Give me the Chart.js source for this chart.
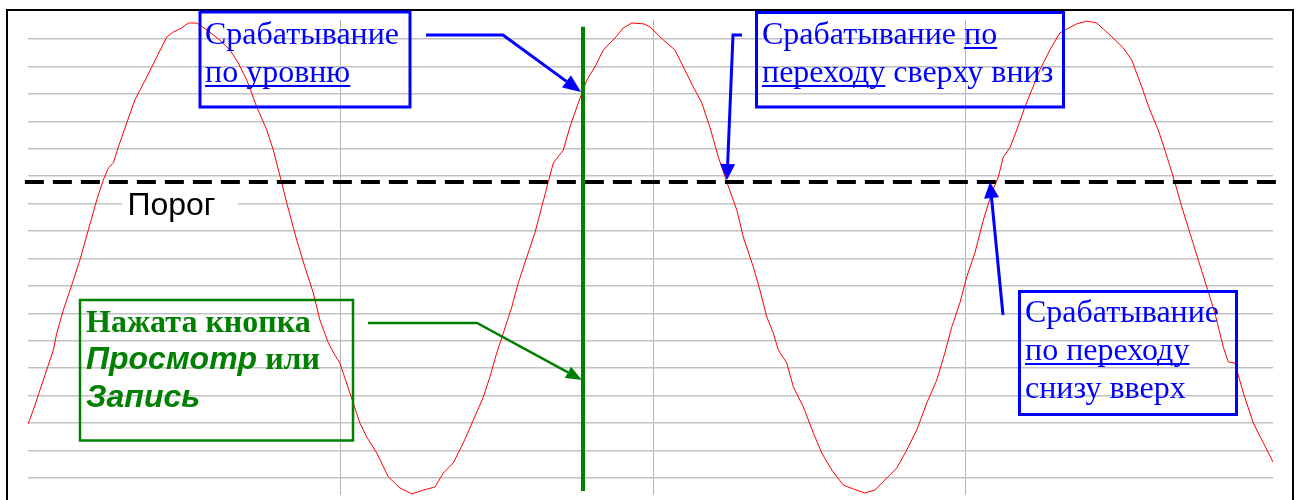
<!DOCTYPE html>
<html>
<head>
<meta charset="utf-8">
<script src="https://cdn.jsdelivr.net/npm/chart.js@4.4.1/dist/chart.umd.min.js"></script>
<style>
html,body{margin:0;padding:0;background:#fff;}
#wrap{width:1300px;height:500px;position:relative;}
canvas{display:block;}
</style>
</head>
<body>
<div id="wrap"><canvas id="c" width="1300" height="500"></canvas></div>
<script>
// ---- data ----
const timeMs = [0,1.7,4.9,8.1,9.2,11.3,14.0,16.6,19.3,22.0,
24.1,25.7,27.3,28.9,31.6,34.2,38.0,41.2,44.4,46.5,
49.2,51.3,54.0,57.2,61.4,64.6,67.3,70.0,73.2,76.4,
78.5,81.2,82.8,86.0,88.6,91.3,93.4,96.1,98.2,99.8,
103.0,106.2,108.4,111.6,115.3,119.0,122.8,126.5,130.2,132.9,
136.1,139.3,142.5,145.7,147.8,150.0,152.1,154.8,156.9,159.6,
162.2,164.4,166.5,168.1,171.3,173.4,176.1,178.8,181.4,184.1,
187.8,190.5,193.2,197.0,199.0,203.3,207.0,209.7,212.9,215.6,
218.2,220.9,223.6,226.8,228.9,232.1,234.2,236.4,238.5,240.1,
242.8,244.9,248.1,251.3,254.0,257.2,260.9,264.1,267.8,271.0,
274.8,278.0,281.2,284.4,287.6,290.8,293.4,295.6,298.2,300.4,
303.0,305.7,308.4,310.5,312.1,314.2,316.4,319.0,321.2,323.8,
327.0,330.2,332.4,335.6,338.8,342.0,344.1,347.3,350.5,353.2,
356.4,359.0,361.7,363.8,366.5,369.2,371.8,374.5,377.2,379.8,
382.5,384.1,386.2,388.9,392.1,395.3,398.4];
const signal = [1.97,2.48,3.57,4.66,5.28,6.12,7.03,7.94,9.04,10.13,
10.86,11.30,11.48,12.06,12.94,13.78,14.61,15.34,16.07,16.25,
16.40,16.58,16.58,16.33,15.96,15.60,15.12,14.50,13.52,12.68,
11.95,10.75,10.02,8.67,7.69,6.74,5.76,4.92,4.48,4.19,
3.10,2.00,1.49,0.91,0.04,-0.36,-0.58,-0.44,-0.33,0.18,
0.55,1.28,2.11,2.95,3.68,4.56,5.28,6.23,7.11,8.05,
8.93,9.88,10.79,11.48,11.95,12.79,13.67,14.50,14.98,15.60,
16.03,16.40,16.58,16.55,16.44,15.96,15.60,14.98,14.25,13.67,
12.79,11.70,10.79,9.77,8.78,7.69,6.85,5.87,5.28,4.66,
4.19,3.32,2.59,1.64,0.91,0.29,-0.26,-0.40,-0.55,-0.44,
0.00,0.36,1.02,1.75,2.73,3.57,4.56,5.50,6.38,7.33,
8.20,9.40,10.39,10.97,11.70,12.03,12.68,13.52,14.14,14.87,
15.60,16.22,16.36,16.55,16.65,16.58,16.36,16.03,15.67,15.23,
14.25,13.41,12.68,11.95,10.97,9.88,8.93,7.94,6.96,6.01,
4.77,4.23,4.19,3.10,2.00,1.28,0.58];
const xGridTicks = [100, 200, 300];
const yGridTicks = [0,1,2,3,4,5,6,7,8,9,10,11,12,13,14,15,16];
const xRange = [0, 398.4];
const yRange = [-0.62, 16.69];
const thresholdLevel = 10.79;
const thresholdSpan = [-1, 399.6];
const markerTime = 177.6;
const markerSpan = [-0.47, 16.44];

const thresholdLabel = 'Порог';
const levelText = [['Срабатывание'], ['по уровню']];
const fallText = [['Срабатывание ', 'по'], ['переходу', ' сверху вниз']];
const riseText = [['Срабатывание'], ['по переходу'], ['снизу вверх']];
const buttonText = [['Нажата кнопка'], ['Просмотр', ' или'], ['Запись']];

// ---- drawing helpers ----
const SERIF = '"Liberation Serif", "Times New Roman", serif';
const SANS = '"Liberation Sans", Arial, sans-serif';
const BLUE = '#0000FF';
const GREEN = '#008000';

function segs(ctx, list, x, y) {
  let cx = x;
  for (const s of list) {
    ctx.font = s.font;
    ctx.fillStyle = s.color;
    ctx.textBaseline = 'alphabetic';
    ctx.textAlign = 'left';
    ctx.fillText(s.text, cx, y);
    const w = ctx.measureText(s.text).width;
    if (s.u) ctx.fillRect(cx, y + 3, w, 2);
    cx += w;
  }
}
function arrow(ctx, pts, color, lw, hl, hw) {
  const n = pts.length;
  const [tx, ty] = pts[n - 1];
  const [px, py] = pts[n - 2];
  const a = Math.atan2(ty - py, tx - px);
  const bx = tx - hl * Math.cos(a), by = ty - hl * Math.sin(a);
  ctx.save();
  ctx.strokeStyle = color; ctx.fillStyle = color; ctx.lineWidth = lw;
  ctx.lineJoin = 'miter'; ctx.lineCap = 'butt';
  ctx.beginPath();
  ctx.moveTo(pts[0][0], pts[0][1]);
  for (let i = 1; i < n - 1; i++) ctx.lineTo(pts[i][0], pts[i][1]);
  ctx.lineTo(bx, by);
  ctx.stroke();
  ctx.beginPath();
  ctx.moveTo(tx, ty);
  ctx.lineTo(bx + hw / 2 * Math.sin(a), by - hw / 2 * Math.cos(a));
  ctx.lineTo(bx - hw / 2 * Math.sin(a), by + hw / 2 * Math.cos(a));
  ctx.closePath();
  ctx.fill();
  ctx.restore();
}

const overlay = {
  id: 'overlay',
  afterDraw(chart) {
    const ctx = chart.ctx;
    ctx.save();
    // outer frame
    ctx.strokeStyle = '#000';
    ctx.lineWidth = 2;
    ctx.strokeRect(7, 10, 1286, 520);

    // threshold label with white background
    ctx.fillStyle = '#fff';
    ctx.fillRect(122, 188, 116, 38);
    ctx.font = '32px ' + SANS;
    ctx.fillStyle = '#000';
    ctx.textAlign = 'center';
    ctx.textBaseline = 'alphabetic';
    ctx.fillText(thresholdLabel, 171.5, 215);

    const bf = '32px ' + SERIF;
    // box 1
    ctx.strokeStyle = BLUE; ctx.lineWidth = 3;
    ctx.strokeRect(200, 12, 210, 95);
    segs(ctx, [{text: levelText[0][0], font: bf, color: BLUE}], 205, 44);
    segs(ctx, [{text: levelText[1][0], font: bf, color: BLUE, u: true}], 205, 82);
    arrow(ctx, [[426, 35], [503, 35], [581, 92]], BLUE, 3, 18, 15);

    // box 2
    ctx.strokeStyle = BLUE; ctx.lineWidth = 3;
    ctx.strokeRect(756.5, 12.5, 307, 94.5);
    segs(ctx, [{text: fallText[0][0], font: bf, color: BLUE}, {text: fallText[0][1], font: bf, color: BLUE, u: true}], 762, 44);
    segs(ctx, [{text: fallText[1][0], font: bf, color: BLUE, u: true}, {text: fallText[1][1], font: bf, color: BLUE}], 762, 82);
    arrow(ctx, [[742, 35], [733, 35], [727, 180]], BLUE, 3, 16, 15);

    // box 3
    ctx.strokeStyle = BLUE; ctx.lineWidth = 3;
    ctx.strokeRect(1019.5, 291.5, 217, 123);
    segs(ctx, [{text: riseText[0][0], font: bf, color: BLUE}], 1025, 322);
    segs(ctx, [{text: riseText[1][0], font: bf, color: BLUE, u: true}], 1025, 360);
    segs(ctx, [{text: riseText[2][0], font: bf, color: BLUE}], 1025, 398);
    arrow(ctx, [[1003, 315], [990, 182]], BLUE, 3, 16, 15);

    // green box
    ctx.strokeStyle = GREEN; ctx.lineWidth = 2.5;
    ctx.strokeRect(80, 300, 273, 140.5);
    const gb = 'bold 32px ' + SERIF;
    const gi = 'italic bold 32px ' + SANS;
    segs(ctx, [{text: buttonText[0][0], font: gb, color: GREEN}], 86, 332);
    segs(ctx, [{text: buttonText[1][0], font: gi, color: GREEN}, {text: buttonText[1][1], font: gb, color: GREEN}], 86, 369);
    segs(ctx, [{text: buttonText[2][0], font: gi, color: GREEN}], 86, 407);
    arrow(ctx, [[368, 323], [477, 323], [582, 380]], GREEN, 2.5, 16, 13);
    ctx.restore();
  }
};

const ctx = document.getElementById('c').getContext('2d');
new Chart(ctx, {
  type: 'line',
  data: {
    datasets: [
      {
        label: 'marker',
        data: [{x: markerTime, y: markerSpan[0]}, {x: markerTime, y: markerSpan[1]}],
        borderColor: GREEN, borderWidth: 4, pointRadius: 0, clip: false, order: 0
      },
      {
        label: 'threshold',
        data: [{x: thresholdSpan[0], y: thresholdLevel}, {x: thresholdSpan[1], y: thresholdLevel}],
        borderColor: '#000', borderWidth: 4, borderDash: [19, 9], pointRadius: 0, clip: false, order: 1
      },
      {
        label: 'signal',
        data: timeMs.map((t, i) => ({x: t, y: signal[i]})),
        borderColor: '#FF0000', borderWidth: 1, pointRadius: 0, tension: 0, order: 2
      }
    ]
  },
  options: {
    responsive: false,
    animation: false,
    events: [],
    layout: {padding: {left: 28, right: 27, top: 20, bottom: 5}},
    plugins: {legend: {display: false}, tooltip: {enabled: false}},
    scales: {
      x: {
        type: 'linear', min: xRange[0], max: xRange[1],
        afterBuildTicks: s => { s.ticks = xGridTicks.map(v => ({value: v})); },
        grid: {color: '#b4b4b4', lineWidth: 1, drawTicks: false},
        border: {display: false},
        ticks: {display: false}
      },
      y: {
        type: 'linear', min: yRange[0], max: yRange[1],
        afterBuildTicks: s => { s.ticks = yGridTicks.map(v => ({value: v})); },
        grid: {color: '#c2c2c2', lineWidth: 1.5, drawTicks: false},
        border: {display: false},
        ticks: {display: false}
      }
    }
  },
  plugins: [overlay]
});
</script>
</body>
</html>
